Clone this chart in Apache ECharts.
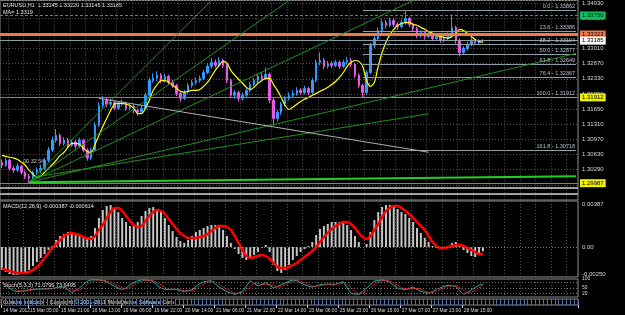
<!DOCTYPE html>
<html>
<head>
<meta charset="utf-8">
<script src="https://cdn.jsdelivr.net/npm/echarts@6/dist/echarts.min.js"></script>
<style>
  html, body { margin: 0; padding: 0; background: #000; }
  #chart { width: 625px; height: 315px; }
</style>
</head>
<body>
<div id="chart"></div>
<script>
// EURUSD H1 (read as 2-hour steps), 14 Mar - 28 Mar 2012
const closes = [
  1.3039, 1.3050, 1.3032, 1.3028, 1.3037, 1.3023, 1.3014, 1.3010, 1.3023, 1.3028,
  1.3032, 1.3050, 1.3073, 1.3095, 1.3106, 1.3088, 1.3095, 1.3084, 1.3091, 1.3082,
  1.3095, 1.3073, 1.3055, 1.3073, 1.3129, 1.3173, 1.3185, 1.3176, 1.3180, 1.3167,
  1.3176, 1.3178, 1.3167, 1.3171, 1.3162, 1.3158, 1.3167, 1.3196, 1.3229, 1.3234,
  1.3241, 1.3229, 1.3238, 1.3225, 1.3218, 1.3200, 1.3189, 1.3203, 1.3218, 1.3225,
  1.3229, 1.3234, 1.3247, 1.3261, 1.3270, 1.3263, 1.3274, 1.3263, 1.3229, 1.3196,
  1.3202, 1.3189, 1.3196, 1.3207, 1.3220, 1.3229, 1.3238, 1.3234, 1.3243, 1.3185,
  1.3144, 1.3158, 1.3176, 1.3189, 1.3196, 1.3200, 1.3207, 1.3202, 1.3211, 1.3202,
  1.3229, 1.3270, 1.3274, 1.3261, 1.3267, 1.3263, 1.3270, 1.3261, 1.3270, 1.3274,
  1.3265, 1.3241, 1.3218, 1.3202, 1.3247, 1.3308, 1.3323, 1.3341, 1.3359, 1.3353,
  1.3364, 1.3355, 1.3350, 1.3359, 1.3368, 1.3355, 1.3346, 1.3330, 1.3337, 1.3328,
  1.3332, 1.3323, 1.3328, 1.3319, 1.3323, 1.3330, 1.3348, 1.3319, 1.3292, 1.3301,
  1.3310, 1.3319, 1.3314, 1.3319, 1.33185
]
const highs = [
  1.3052, 1.3056, 1.3054, 1.3037, 1.3043, 1.3040, 1.3027, 1.3019, 1.3027, 1.3034,
  1.3040, 1.3055, 1.3080, 1.3103, 1.3120, 1.3110, 1.3102, 1.3100, 1.3097, 1.3095,
  1.3101, 1.3098, 1.3077, 1.3078, 1.3135, 1.3180, 1.3194, 1.3190, 1.3188, 1.3184,
  1.3182, 1.3186, 1.3182, 1.3177, 1.3175, 1.3166, 1.3172, 1.3202, 1.3236, 1.3245,
  1.3250, 1.3246, 1.3244, 1.3242, 1.3230, 1.3222, 1.3204, 1.3208, 1.3223, 1.3231,
  1.3236, 1.3240, 1.3253, 1.3268, 1.3280, 1.3276, 1.3282, 1.3278, 1.3267, 1.3233,
  1.3208, 1.3206, 1.3202, 1.3212, 1.3226, 1.3235, 1.3244, 1.3248, 1.3258, 1.3247,
  1.3190, 1.3163, 1.3181, 1.3195, 1.3202, 1.3207, 1.3214, 1.3212, 1.3217, 1.3215,
  1.3235, 1.3276, 1.3292, 1.3280, 1.3273, 1.3272, 1.3276, 1.3274, 1.3276, 1.3282,
  1.3279, 1.3269, 1.3245, 1.3222, 1.3252, 1.3314, 1.3331, 1.3348, 1.3366, 1.3365,
  1.3370, 1.3368, 1.3360, 1.3365, 1.3386, 1.3372, 1.3359, 1.3350, 1.3342, 1.3341,
  1.3338, 1.3336, 1.3334, 1.3332, 1.3329, 1.3337, 1.3377, 1.3352, 1.3323, 1.3306,
  1.3316, 1.3325, 1.3323, 1.3322, 1.33220
]
const lows = [
  1.3032, 1.3035, 1.3027, 1.3022, 1.3024, 1.3018, 1.3008, 1.3000, 1.3006, 1.3018,
  1.3022, 1.3028, 1.3046, 1.3068, 1.3090, 1.3082, 1.3083, 1.3078, 1.3080, 1.3076,
  1.3078, 1.3068, 1.3049, 1.3050, 1.3070, 1.3125, 1.3168, 1.3170, 1.3171, 1.3162,
  1.3163, 1.3171, 1.3161, 1.3162, 1.3156, 1.3150, 1.3154, 1.3164, 1.3192, 1.3224,
  1.3228, 1.3223, 1.3225, 1.3219, 1.3212, 1.3194, 1.3182, 1.3185, 1.3199, 1.3213,
  1.3220, 1.3224, 1.3230, 1.3243, 1.3256, 1.3258, 1.3259, 1.3257, 1.3223, 1.3190,
  1.3188, 1.3182, 1.3184, 1.3192, 1.3203, 1.3216, 1.3224, 1.3229, 1.3230, 1.3178,
  1.3128, 1.3137, 1.3152, 1.3171, 1.3184, 1.3191, 1.3195, 1.3197, 1.3198, 1.3196,
  1.3199, 1.3225, 1.3263, 1.3255, 1.3256, 1.3257, 1.3259, 1.3255, 1.3257, 1.3265,
  1.3259, 1.3235, 1.3212, 1.3192, 1.3198, 1.3243, 1.3302, 1.3318, 1.3336, 1.3346,
  1.3349, 1.3349, 1.3343, 1.3346, 1.3354, 1.3349, 1.3340, 1.3324, 1.3325, 1.3321,
  1.3324, 1.3317, 1.3319, 1.3314, 1.3315, 1.3319, 1.3326, 1.3312, 1.3283, 1.3287,
  1.3296, 1.3306, 1.3309, 1.3310, 1.33145
]
const firstOpen = 1.3045
const maValues = [
  1.3061, 1.3059, 1.3057, 1.3055, 1.3052, 1.3046, 1.3039, 1.3028, 1.3019, 1.3012,
  1.3014, 1.3023, 1.3032, 1.3041, 1.3050, 1.3061, 1.3068, 1.3079, 1.3088, 1.3088,
  1.3086, 1.3077, 1.3070, 1.3068, 1.3086, 1.3106, 1.3126, 1.3144, 1.3162, 1.3176,
  1.3178, 1.3178, 1.3176, 1.3173, 1.3167, 1.3155, 1.3155, 1.3167, 1.3185, 1.3207,
  1.3220, 1.3229, 1.3229, 1.3225, 1.3218, 1.3212, 1.3205, 1.3203, 1.3205, 1.3207,
  1.3207, 1.3209, 1.3216, 1.3225, 1.3238, 1.3252, 1.3263, 1.3272, 1.3268, 1.3252,
  1.3241, 1.3232, 1.3223, 1.3214, 1.3209, 1.3214, 1.3223, 1.3229, 1.3234, 1.3234,
  1.3220, 1.3207, 1.3191, 1.3173, 1.3164, 1.3169, 1.3176, 1.3182, 1.3187, 1.3191,
  1.3196, 1.3200, 1.3205, 1.3209, 1.3214, 1.3220, 1.3227, 1.3236, 1.3247, 1.3261,
  1.3270, 1.3274, 1.3272, 1.3261, 1.3229, 1.3216, 1.3225, 1.3261, 1.3292, 1.3315,
  1.3332, 1.3344, 1.3353, 1.3357, 1.3359, 1.3359, 1.3355, 1.3353, 1.3348, 1.3344,
  1.3339, 1.3335, 1.3330, 1.3328, 1.3326, 1.3324, 1.3328, 1.3335, 1.3344, 1.3341,
  1.3335, 1.3328, 1.3321, 1.3317, 1.3315
]
// MACD in points (1e-5)
const macdMain = [
  -207, -225, -243, -252, -252, -243, -234, -207, -171, -135,
  -99, -63, -27, 9, 63, 99, 117, 135, 135, 126,
  108, 99, 81, 99, 171, 261, 333, 369, 378, 351,
  315, 261, 225, 189, 189, 225, 279, 324, 351, 360,
  342, 315, 261, 198, 144, 90, 54, 36, 63, 99,
  135, 153, 171, 189, 198, 198, 189, 153, 99, 36,
  -18, -63, -99, -117, -99, -72, -45, -9, 18, -45,
  -162, -216, -234, -207, -162, -117, -81, -45, -18, 9,
  45, 108, 162, 189, 207, 225, 225, 225, 216, 198,
  153, 99, 45, 0, 27, 135, 243, 315, 360, 378,
  378, 360, 342, 315, 297, 261, 225, 171, 126, 81,
  45, 9, -9, -9, 0, 9, 36, 45, 9, -27,
  -54, -81, -90, -72, -39
]
const macdSignal = [
  -189, -207, -216, -225, -234, -234, -234, -225, -207, -180,
  -144, -99, -54, -9, 27, 63, 99, 117, 126, 117,
  108, 90, 81, 72, 99, 153, 198, 261, 315, 351,
  351, 324, 279, 234, 198, 180, 189, 234, 279, 315,
  333, 324, 297, 252, 207, 162, 126, 99, 81, 81,
  81, 90, 99, 117, 144, 171, 189, 189, 180, 153,
  99, 36, -27, -81, -99, -90, -81, -72, -81, -108,
  -144, -180, -189, -189, -180, -162, -144, -117, -90, -63,
  -36, 0, 45, 90, 126, 162, 189, 207, 225, 225,
  207, 171, 126, 90, 72, 99, 153, 207, 270, 324,
  351, 369, 369, 351, 324, 297, 261, 225, 189, 153,
  99, 45, 9, -9, -9, 0, 9, 18, 18, 9,
  -9, -27, -45, -63, -61
]
const stochMain = [
  80, 65, 50, 35, 30, 32, 36, 40, 42, 44,
  45, 45, 46, 48, 52, 55, 55, 40, 25, 38,
  50, 70, 88, 95, 96, 95, 90, 85, 72, 60,
  50, 42, 50, 68, 80, 90, 95, 94, 92, 85,
  65, 50, 42, 40, 44, 42, 35, 30, 35, 40,
  58, 75, 85, 88, 90, 72, 55, 42, 30, 22,
  15, 22, 30, 60, 90, 75, 62, 70, 80, 65,
  50, 58, 68, 78, 88, 95, 90, 78, 68, 60,
  55, 62, 68, 70, 72, 70, 70, 78, 85, 50,
  20, 16, 15, 32, 50, 70, 88, 92, 95, 90,
  82, 65, 50, 45, 40, 48, 55, 42, 32, 25,
  20, 30, 42, 50, 60, 65, 62, 60, 35, 15,
  25, 40, 52, 65, 71
]
const stochSignal = [
  78, 75, 65, 50, 38, 32, 33, 36, 40, 42,
  44, 45, 45, 46, 49, 52, 54, 50, 40, 34,
  38, 53, 69, 84, 93, 95, 94, 90, 82, 72,
  61, 51, 47, 53, 66, 79, 88, 93, 94, 90,
  81, 67, 52, 44, 42, 42, 40, 36, 33, 35,
  44, 58, 73, 83, 88, 83, 72, 56, 42, 31,
  22, 20, 22, 37, 60, 75, 76, 69, 71, 72,
  65, 58, 59, 68, 78, 87, 91, 88, 79, 69,
  61, 59, 62, 67, 70, 71, 71, 73, 78, 71,
  52, 29, 17, 21, 32, 51, 69, 83, 92, 92,
  89, 79, 66, 53, 45, 44, 48, 48, 43, 33,
  26, 25, 31, 41, 51, 58, 62, 62, 52, 37,
  25, 27, 39, 52, 63
]

const timeLabels = ['14 Mar 2012', '15 Mar 05:00', '15 Mar 21:00', '16 Mar 13:00', '19 Mar 06:00',
  '19 Mar 22:00', '20 Mar 14:00', '21 Mar 06:00', '21 Mar 22:00', '22 Mar 14:00', '23 Mar 06:00',
  '25 Mar 23:00', '26 Mar 15:00', '27 Mar 07:00', '27 Mar 23:00', '28 Mar 15:00']
const timeLabelSlots = [0, 7, 15, 23, 31, 39, 47, 55, 63, 71, 79, 87, 95, 103, 111, 119]

// fibonacci retracement (anchored on the 23 Mar low and 27 Mar high)
const fibRatios = ['0.0', '23.6', '38.2', '50.0', '61.8', '76.4', '100.0', '161.8']
const fibPrices = [1.33862, 1.33386, 1.33104, 1.32877, 1.32649, 1.32367, 1.31912, 1.30718]
const fibAnchors = [[93, 1.31912], [104, 1.33862]]

// trend lines from the 14 Mar low: [slot1, price1, slot2, price2]
const greenFan = [
  [6.5, 1.3001, 53.5, 1.34086],
  [6.5, 1.3001, 73.7, 1.34086],
  [6.5, 1.3001, 105.5, 1.34086],
  [6.5, 1.3001, 148, 1.32899],
  [8, 1.3012, 110.4, 1.31544]
]
const flatTrend = [6.5, 1.3001, 148, 1.30144]
const greyTrend = [25.3, 1.31891, 109.8, 1.30681]

// horizontal levels
const greenLevel = 1.33750
const orangeLevel = 1.33323
const bidLevel = 1.33185
const brownLevel = 1.31912
const brownLowLevel = 1.29987
const greyLevels = [1.29875, 1.29740]

const slotCount = 149
const slots = Array.from({ length: slotCount }, (_, i) => String(i))
const labelAt = {}
timeLabelSlots.forEach((s, k) => { labelAt[s] = timeLabels[k] })

const candles = closes.map((c, i) => [i === 0 ? firstOpen : closes[i - 1], c, lows[i], highs[i]])

const gridColor = '#555'
const txt = '#d8d8d8'
const font = 'Liberation Sans'
const small = '5.5px "Liberation Sans"'

function xAxisFor(gridIndex, extra) {
  return Object.assign({
    type: 'category',
    gridIndex,
    data: slots,
    boundaryGap: true,
    axisLine: { show: false },
    axisTick: { show: false },
    axisLabel: { show: false },
    splitLine: {
      show: true,
      interval: (i) => i % 4 === 2,
      lineStyle: { color: gridColor, type: [1, 2], width: 1 }
    }
  }, extra || {})
}

const boxLabel = (bg, fg) => ({
  show: true,
  position: 'end',
  distance: 2,
  formatter: (p) => p.value.toFixed(5),
  backgroundColor: bg,
  color: fg,
  fontSize: 6,
  fontFamily: font,
  padding: [1, 2]
})

const segment = (t, style) => [
  { coord: [t[0], t[1]], lineStyle: style, label: { show: false } },
  { coord: [t[2], t[3]] }
]

const markData = []
markData.push({ yAxis: greenLevel, lineStyle: { color: '#22a84a', type: [3, 2], width: 1 }, label: boxLabel('#10c060', '#000') })
markData.push({ yAxis: orangeLevel, lineStyle: { color: '#f07a4a', width: 3, type: 'solid' }, label: boxLabel('#f07a4a', '#000') })
markData.push({ yAxis: bidLevel, lineStyle: { color: '#8f9ea6', width: 1, type: 'solid' }, label: boxLabel('#ffffff', '#000') })
markData.push({ yAxis: brownLevel, lineStyle: { color: '#b07a30', width: 1, type: 'solid' }, label: boxLabel('#f0f000', '#000') })
markData.push({ yAxis: brownLowLevel, lineStyle: { color: '#b07a30', width: 1, type: 'solid' }, label: boxLabel('#f0f000', '#000') })
greyLevels.forEach((v) => {
  markData.push({ yAxis: v, lineStyle: { color: '#a0a0a0', width: 2, type: 'solid' }, label: { show: false } })
})
fibPrices.forEach((p, k) => {
  markData.push([
    {
      coord: [fibAnchors[0][0], p],
      lineStyle: { color: '#8f9ea6', width: 1, type: 'solid' },
      label: {
        show: true,
        position: 'insideEndTop',
        distance: 1,
        formatter: fibRatios[k] + ' - ' + p.toFixed(5),
        color: '#b8c4c8',
        fontSize: 5.5,
        fontFamily: font
      }
    },
    { coord: [slotCount - 1, p] }
  ])
})
markData.push(segment([fibAnchors[0][0], fibAnchors[0][1], fibAnchors[1][0], fibAnchors[1][1]],
  { color: '#b07a30', width: 1, type: [1, 2] }))
greenFan.forEach((t) => {
  markData.push(segment(t, { color: '#1f8f1f', width: 1, type: 'solid' }))
})
markData.push(segment(flatTrend, { color: '#22d022', width: 2, type: 'solid' }))
markData.push(segment(greyTrend, { color: '#b0b0b0', width: 1, type: 'solid' }))

const chart = echarts.init(document.getElementById('chart'))
chart.setOption({
  backgroundColor: '#000',
  animation: false,
  textStyle: { fontFamily: font },
  grid: [
    { left: 0, right: 47, top: 0, height: 200, show: true, borderColor: '#8a8a8a', borderWidth: 1, backgroundColor: 'transparent' },
    { left: 0, right: 47, top: 201, height: 76, show: true, borderColor: '#8a8a8a', borderWidth: 1 },
    { left: 0, right: 47, top: 279, height: 18, show: true, borderColor: '#8a8a8a', borderWidth: 1 },
    { left: 0, right: 47, top: 299, height: 6, show: true, borderColor: '#8a8a8a', borderWidth: 1 }
  ],
  xAxis: [
    xAxisFor(0),
    xAxisFor(1),
    xAxisFor(2),
    xAxisFor(3, {
      splitLine: { show: true, interval: 0, lineStyle: { color: '#4f6fa8', width: 1 } },
      axisTick: {
        show: true,
        interval: (i) => labelAt[i] !== undefined,
        length: 3,
        lineStyle: { color: '#c8c8c8' }
      },
      axisLabel: {
        show: true,
        interval: (i) => labelAt[i] !== undefined,
        formatter: (v, i) => labelAt[i] || '',
        showMinLabel: true,
        hideOverlap: false,
        align: 'left',
        margin: 3,
        color: txt,
        fontSize: 4.8,
        fontFamily: font
      }
    })
  ],
  yAxis: [
    {
      type: 'value',
      gridIndex: 0,
      position: 'right',
      min: 1.29610,
      max: 1.34086,
      interval: 0.0034,
      axisLine: { show: false },
      axisTick: { show: false },
      splitLine: { show: true, lineStyle: { color: gridColor, type: [1, 2] } },
      axisLabel: {
        color: txt,
        fontSize: 6,
        fontFamily: font,
        margin: 4,
        showMinLabel: false,
        showMaxLabel: false,
        formatter: (v) => v.toFixed(5)
      }
    },
    {
      type: 'value',
      gridIndex: 1,
      position: 'right',
      min: -270,
      max: 414,
      axisLine: { show: false },
      axisTick: { show: false },
      splitLine: { show: false },
      axisLabel: {
        customValues: [387, 0, -250],
        color: txt,
        fontSize: 6,
        fontFamily: font,
        margin: 4,
        formatter: (v) => (v === 0 ? '0.00' : (v / 1e5).toFixed(5))
      }
    },
    {
      type: 'value',
      gridIndex: 2,
      position: 'right',
      min: 0,
      max: 100,
      axisLine: { show: false },
      axisTick: { show: false },
      splitLine: { show: false },
      axisLabel: {
        customValues: [100, 50, 20],
        color: txt,
        fontSize: 5,
        fontFamily: font,
        margin: 4
      }
    },
    {
      type: 'value',
      gridIndex: 3,
      position: 'right',
      min: 0,
      max: 1,
      axisLine: { show: false },
      axisTick: { show: false },
      splitLine: { show: false },
      axisLabel: { show: false }
    }
  ],
  series: [
    {
      name: 'EURUSD',
      type: 'candlestick',
      xAxisIndex: 0,
      yAxisIndex: 0,
      data: candles,
      barWidth: 2,
      itemStyle: {
        color: '#2e9cff',
        color0: '#e65ae6',
        borderColor: '#2e9cff',
        borderColor0: '#e65ae6',
        borderWidth: 1
      },
      markLine: {
        silent: true,
        symbol: ['none', 'none'],
        precision: 5,
        data: markData
      },
      z: 3
    },
    {
      name: 'MA',
      type: 'line',
      xAxisIndex: 0,
      yAxisIndex: 0,
      data: maValues,
      showSymbol: false,
      smooth: 0.3,
      lineStyle: { color: '#ffff00', width: 1.2 },
      z: 4
    },
    {
      name: 'MACD',
      type: 'bar',
      xAxisIndex: 1,
      yAxisIndex: 1,
      data: macdMain,
      barWidth: 2,
      itemStyle: { color: '#c4c4c4' },
      markLine: {
        silent: true,
        symbol: ['none', 'none'],
        label: { show: false },
        lineStyle: { color: '#777', type: [1, 2], width: 1 },
        data: [{ yAxis: 0 }]
      }
    },
    {
      name: 'Signal',
      type: 'line',
      xAxisIndex: 1,
      yAxisIndex: 1,
      data: macdSignal,
      showSymbol: false,
      smooth: 0.4,
      lineStyle: { color: '#ff0000', width: 2.5 }
    },
    {
      name: 'Stoch',
      type: 'line',
      xAxisIndex: 2,
      yAxisIndex: 2,
      data: stochMain,
      showSymbol: false,
      lineStyle: { color: '#20b2aa', width: 1 },
      markLine: {
        silent: true,
        symbol: ['none', 'none'],
        label: { show: false },
        lineStyle: { color: '#777', type: [1, 2], width: 1 },
        data: [{ yAxis: 80 }, { yAxis: 50 }, { yAxis: 20 }]
      }
    },
    {
      name: 'StochSignal',
      type: 'line',
      xAxisIndex: 2,
      yAxisIndex: 2,
      data: stochSignal,
      showSymbol: false,
      lineStyle: { color: '#ff2020', width: 1, type: [2, 1] }
    }
  ],
  graphic: [
    { type: 'text', left: 3, top: 2, style: { text: 'EURUSD,H1  1.33145 1.33220 1.33145 1.33185', fill: '#e8e8e8', font: small } },
    { type: 'text', left: 3, top: 9, style: { text: 'MA= 1.3319', fill: '#e8e8e8', font: small } },
    { type: 'text', left: 23, top: 158, style: { text: '00 32 54', fill: '#c8c8c8', font: small } },
    { type: 'text', left: 3, top: 203, style: { text: 'MACD(12,26,9) -0.000387 -0.000614', fill: '#e8e8e8', font: small } },
    { type: 'text', left: 3, top: 282, style: { text: 'Stoch(5,3,3) 71.0796 73.6495', fill: '#e8e8e8', font: small } },
    { type: 'text', left: 3, top: 299, style: { text: 'Custom Indicator - Copyright \u00a9 2001-2011 MetaQuotes Software Corp.', fill: '#e8e8e8', font: small, backgroundColor: '#000' } }
  ]
})
</script>
</body>
</html>
